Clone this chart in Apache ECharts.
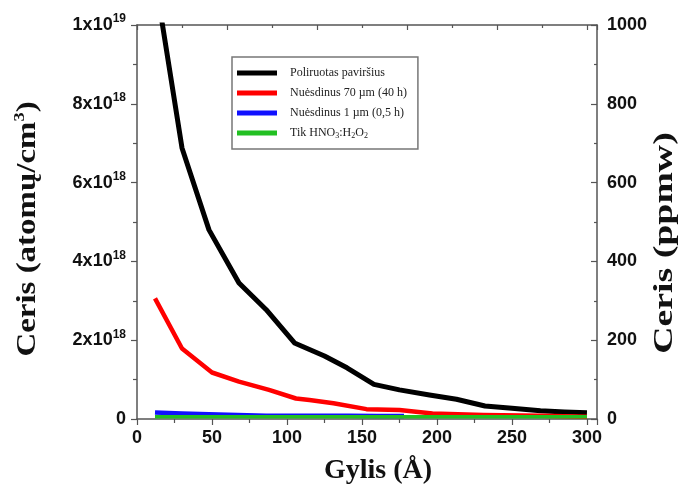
<!DOCTYPE html>
<html><head><meta charset="utf-8">
<script src="https://cdn.jsdelivr.net/npm/echarts@6/dist/echarts.min.js"></script>
<style>html,body{margin:0;padding:0;background:#fff}#c{width:679px;height:490px}</style>
</head><body><div id="c"></div>
<script>
// Series names (legend)
const seriesNames = ['Poliruotas paviršius', 'Nuėsdinus 70 µm (40 h)', 'Nuėsdinus 1 µm (0,5 h)', 'Tik HNO3:H2O2'];
// Depth (Å) and concentration (units of 1e18 atoms/cm3)
const blackDepth = [12, 30, 48, 68, 86, 105, 125, 140, 158, 175, 195, 213, 232, 250, 269, 285, 300];
const blackConc  = [11.2, 6.88, 4.8, 3.45, 2.78, 1.93, 1.6, 1.3, 0.88, 0.74, 0.61, 0.5, 0.33, 0.27, 0.21, 0.18, 0.16];
const redDepth = [12, 30, 50, 68, 88, 106, 115, 131, 153, 175, 197, 231, 269, 300];
const redConc  = [3.06, 1.79, 1.18, 0.95, 0.74, 0.52, 0.48, 0.4, 0.25, 0.23, 0.14, 0.1, 0.08, 0.06];
const blueDepth = [12, 30, 48, 67, 86, 105, 123, 141, 160, 178];
const blueConc  = [0.165, 0.14, 0.12, 0.1, 0.085, 0.08, 0.08, 0.08, 0.075, 0.075];
const greenDepth = [12, 30, 48, 67, 86, 105, 123, 141, 160, 178, 197, 215, 233, 252, 270, 288, 300];
const greenConc  = [0.06, 0.06, 0.06, 0.06, 0.055, 0.055, 0.055, 0.055, 0.055, 0.055, 0.055, 0.055, 0.055, 0.055, 0.055, 0.055, 0.055];
// Axis ticks
const xTickValues = [0, 50, 100, 150, 200, 250, 300];
const leftTickLabels = {0: '0', 2: '2x10|18', 4: '4x10|18', 6: '6x10|18', 8: '8x10|18', 10: '1x10|19'};
const rightTickValues = [0, 200, 400, 600, 800, 1000];

const pair = (xs, ys) => xs.map((x, i) => [x, ys[i]]);
const colors = ['#000000', '#ff0000', '#1010ff', '#22c022'];
const widths = [5, 4.5, 4.5, 3.5];
const dataSets = [pair(blackDepth, blackConc), pair(redDepth, redConc), pair(blueDepth, blueConc), pair(greenDepth, greenConc)];

const axisCol = '#555';
const labelFont = {fontFamily: 'Liberation Sans', fontWeight: 'bold', fontSize: 18, color: '#111'};
const nameFont = {fontFamily: 'Liberation Serif', fontWeight: 'bold', fontSize: 28, color: '#111'};

const chart = echarts.init(document.getElementById('c'), null, {renderer: 'canvas'});
chart.setOption({
  animation: false,
  backgroundColor: '#fff',
  grid: {left: 137, right: 82, top: 25, bottom: 71, containLabel: false, outerBoundsMode: 'none'},
  legend: {
    left: 232, top: 57, orient: 'vertical',
    data: seriesNames,
    itemWidth: 40, itemHeight: 5, itemGap: 6,
    icon: 'rect',
    padding: [9, 11, 9, 5],
    borderColor: '#777', borderWidth: 1.5,
    backgroundColor: '#fff',
    formatter: function (name) {
      if (name === 'Tik HNO3:H2O2') return '{sp|}{t|Tik HNO}{s|3}{t|:H}{s|2}{t|O}{s|2}';
      return '{sp|}{t|' + name + '}';
    },
    textStyle: {
      fontFamily: 'Liberation Serif', fontSize: 12, color: '#222', lineHeight: 14,
      rich: {
        sp: {width: 8},
        t: {fontFamily: 'Liberation Serif', fontSize: 12, color: '#222', lineHeight: 14},
        s: {fontFamily: 'Liberation Serif', fontSize: 8, color: '#222', lineHeight: 8, verticalAlign: 'bottom'}
      }
    }
  },
  graphic: [{
    type: 'text', x: 28, y: 229, rotation: Math.PI / 2, scaleX: 1.22,
    style: {
      text: '{a|Ceris (atomų/cm}{s|3}{a|)}',
      align: 'center', verticalAlign: 'middle',
      rich: {
        a: {fontFamily: 'Liberation Serif', fontWeight: 'bold', fontSize: 27, fill: '#111', lineHeight: 30},
        s: {fontFamily: 'Liberation Serif', fontWeight: 'bold', fontSize: 15, fill: '#111', lineHeight: 14, verticalAlign: 'top'}
      }
    }
  }, {
    type: 'text', x: 665, y: 243, rotation: Math.PI / 2, scaleX: 1.4,
    style: {
      text: 'Ceris (ppmw)',
      align: 'center', verticalAlign: 'middle',
      font: 'bold 27px "Liberation Serif"', fill: '#111'
    }
  }],
  xAxis: [{
    type: 'value', position: 'bottom', min: 0, max: 306.7, interval: 50,
    name: 'Gylis (Å)', nameLocation: 'middle', nameGap: 38,
    nameTextStyle: Object.assign({}, nameFont, {padding: [0, 0, 0, 22]}),
    axisLine: {show: true, onZero: false, lineStyle: {color: axisCol, width: 1.5}},
    axisTick: {show: true, inside: false, length: 6, lineStyle: {color: axisCol, width: 1.2}},
    minorTick: {show: true, splitNumber: 2, length: 4, lineStyle: {color: axisCol, width: 1.2}},
    splitLine: {show: false},
    axisLabel: Object.assign({}, labelFont, {margin: 10, showMaxLabel: true,
      formatter: v => xTickValues.indexOf(v) >= 0 ? String(v) : ''})
  }, {
    type: 'value', position: 'top', min: 0, max: 306.7, interval: 60,
    axisLine: {show: true, onZero: false, lineStyle: {color: axisCol, width: 1.5}},
    axisTick: {show: true, inside: true, length: 5, lineStyle: {color: axisCol, width: 1.2}},
    minorTick: {show: true, splitNumber: 2, length: 3, lineStyle: {color: axisCol, width: 1.2}},
    splitLine: {show: false},
    axisLabel: {show: false}
  }],
  yAxis: [{
    type: 'value', position: 'left', min: 0, max: 10, interval: 2,
    axisLine: {show: true, onZero: false, lineStyle: {color: axisCol, width: 1.5}},
    axisTick: {show: true, inside: false, length: 6, lineStyle: {color: axisCol, width: 1.2}},
    minorTick: {show: true, splitNumber: 2, length: 4, lineStyle: {color: axisCol, width: 1.2}},
    splitLine: {show: false},
    axisLabel: {
      margin: 11, align: 'right',
      formatter: function (v) {
        const s = leftTickLabels[v];
        if (s === undefined) return '';
        const p = s.split('|');
        return p.length === 1 ? '{n|' + p[0] + '}' : '{n|' + p[0] + '}{u|' + p[1] + '}';
      },
      rich: {
        n: {fontFamily: 'Liberation Sans', fontWeight: 'bold', fontSize: 18, color: '#111', lineHeight: 24},
        u: {fontFamily: 'Liberation Sans', fontWeight: 'bold', fontSize: 12, color: '#111', lineHeight: 10, verticalAlign: 'top'}
      }
    }
  }, {
    type: 'value', position: 'right', min: 0, max: 1000, interval: 200,
    axisLine: {show: true, onZero: false, lineStyle: {color: axisCol, width: 1.5}},
    axisTick: {show: true, inside: true, length: 6, lineStyle: {color: axisCol, width: 1.2}},
    minorTick: {show: true, splitNumber: 2, length: 3, lineStyle: {color: axisCol, width: 1.2}},
    splitLine: {show: false},
    axisLabel: Object.assign({}, labelFont, {margin: 10,
      formatter: v => rightTickValues.indexOf(v) >= 0 ? String(v) : ''})
  }],
  series: seriesNames.map((n, i) => ({
    name: n, type: 'line', xAxisIndex: 0, yAxisIndex: 0,
    data: dataSets[i], showSymbol: false, symbol: 'none', clip: true,
    color: colors[i],
    lineStyle: {color: colors[i], width: widths[i], join: 'round'},
    z: 2 + i
  }))
});
</script></body></html>
